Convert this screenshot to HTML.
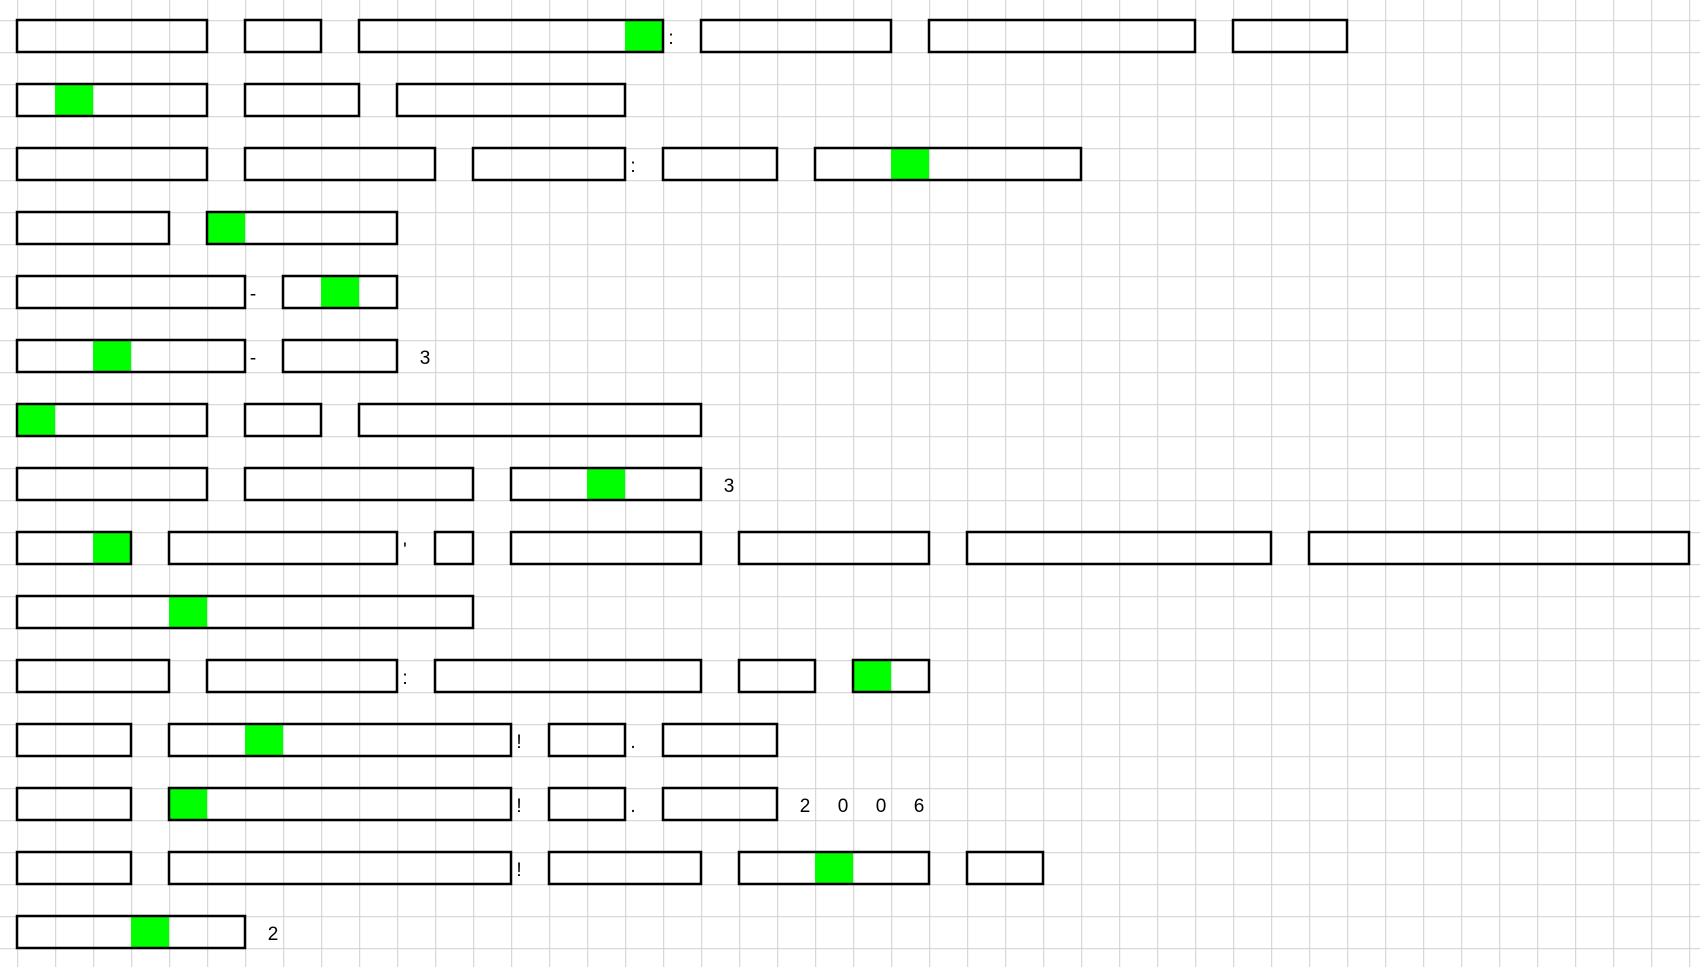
<!DOCTYPE html>
<html><head><meta charset="utf-8"><style>
html,body{margin:0;padding:0;background:#fff;}
svg{display:block;}
.b{fill:none;stroke:#000;stroke-width:2.5;}
.g{fill:#00ff00;}
text{font-family:"Liberation Sans",sans-serif;font-size:19px;fill:#000;text-anchor:middle;}
</style></head><body>
<svg width="1700" height="967" viewBox="0 0 1700 967" xmlns="http://www.w3.org/2000/svg">
<defs><pattern id="grid" x="17" y="20" width="38" height="32" patternUnits="userSpaceOnUse">
<path d="M0 0V32M0 0H38" stroke="#d8d8d8" stroke-width="2.5" fill="none"/></pattern></defs>
<rect width="1700" height="967" fill="#fff"/>
<rect width="1700" height="967" fill="url(#grid)"/>
<g class="g">
<rect x="625" y="20" width="38" height="32"/>
<rect x="55" y="84" width="38" height="32"/>
<rect x="891" y="148" width="38" height="32"/>
<rect x="207" y="212" width="38" height="32"/>
<rect x="321" y="276" width="38" height="32"/>
<rect x="93" y="340" width="38" height="32"/>
<rect x="17" y="404" width="38" height="32"/>
<rect x="587" y="468" width="38" height="32"/>
<rect x="93" y="532" width="38" height="32"/>
<rect x="169" y="596" width="38" height="32"/>
<rect x="853" y="660" width="38" height="32"/>
<rect x="245" y="724" width="38" height="32"/>
<rect x="169" y="788" width="38" height="32"/>
<rect x="815" y="852" width="38" height="32"/>
<rect x="131" y="916" width="38" height="32"/>
</g>
<g class="b">
<rect x="17" y="20" width="190" height="32"/><rect x="245" y="20" width="76" height="32"/><rect x="359" y="20" width="304" height="32"/><rect x="701" y="20" width="190" height="32"/><rect x="929" y="20" width="266" height="32"/><rect x="1233" y="20" width="114" height="32"/>
<rect x="17" y="84" width="190" height="32"/><rect x="245" y="84" width="114" height="32"/><rect x="397" y="84" width="228" height="32"/>
<rect x="17" y="148" width="190" height="32"/><rect x="245" y="148" width="190" height="32"/><rect x="473" y="148" width="152" height="32"/><rect x="663" y="148" width="114" height="32"/><rect x="815" y="148" width="266" height="32"/>
<rect x="17" y="212" width="152" height="32"/><rect x="207" y="212" width="190" height="32"/>
<rect x="17" y="276" width="228" height="32"/><rect x="283" y="276" width="114" height="32"/>
<rect x="17" y="340" width="228" height="32"/><rect x="283" y="340" width="114" height="32"/>
<rect x="17" y="404" width="190" height="32"/><rect x="245" y="404" width="76" height="32"/><rect x="359" y="404" width="342" height="32"/>
<rect x="17" y="468" width="190" height="32"/><rect x="245" y="468" width="228" height="32"/><rect x="511" y="468" width="190" height="32"/>
<rect x="17" y="532" width="114" height="32"/><rect x="169" y="532" width="228" height="32"/><rect x="435" y="532" width="38" height="32"/><rect x="511" y="532" width="190" height="32"/><rect x="739" y="532" width="190" height="32"/><rect x="967" y="532" width="304" height="32"/><rect x="1309" y="532" width="380" height="32"/>
<rect x="17" y="596" width="456" height="32"/>
<rect x="17" y="660" width="152" height="32"/><rect x="207" y="660" width="190" height="32"/><rect x="435" y="660" width="266" height="32"/><rect x="739" y="660" width="76" height="32"/><rect x="853" y="660" width="76" height="32"/>
<rect x="17" y="724" width="114" height="32"/><rect x="169" y="724" width="342" height="32"/><rect x="549" y="724" width="76" height="32"/><rect x="663" y="724" width="114" height="32"/>
<rect x="17" y="788" width="114" height="32"/><rect x="169" y="788" width="342" height="32"/><rect x="549" y="788" width="76" height="32"/><rect x="663" y="788" width="114" height="32"/>
<rect x="17" y="852" width="114" height="32"/><rect x="169" y="852" width="342" height="32"/><rect x="549" y="852" width="152" height="32"/><rect x="739" y="852" width="190" height="32"/><rect x="967" y="852" width="76" height="32"/>
<rect x="17" y="916" width="228" height="32"/>
</g>
<text x="671" y="44">:</text>
<text x="633" y="172">:</text>
<text x="253" y="300">-</text>
<text x="253" y="364">-</text>
<text x="425" y="364">3</text>
<text x="729" y="492">3</text>
<text x="405" y="556">'</text>
<text x="405" y="684">:</text>
<text x="519" y="748">!</text>
<text x="633" y="748">.</text>
<text x="519" y="812">!</text>
<text x="633" y="812">.</text>
<text x="805" y="812">2</text>
<text x="843" y="812">0</text>
<text x="881" y="812">0</text>
<text x="919" y="812">6</text>
<text x="519" y="876">!</text>
<text x="273" y="940">2</text>
</svg>
</body></html>
